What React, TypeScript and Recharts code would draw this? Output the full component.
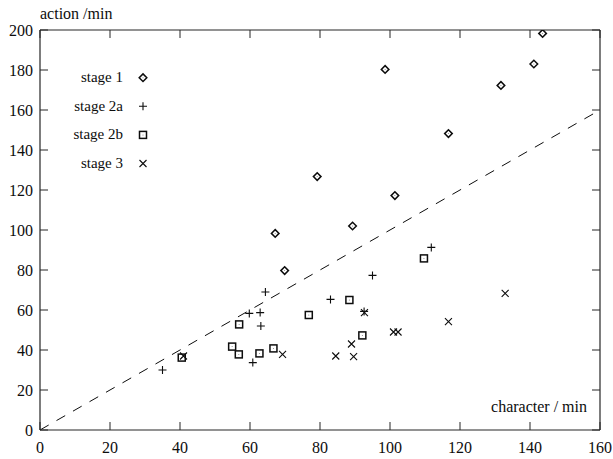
import React from 'react';
import { ScatterChart, Scatter, XAxis, YAxis, ReferenceLine, Customized } from 'recharts';

const stage1 = [
  { x: 67.2, y: 98.3 }, { x: 69.9, y: 79.7 }, { x: 79.2, y: 126.7 }, { x: 89.3, y: 102 },
  { x: 98.6, y: 180.3 }, { x: 101.4, y: 117.2 }, { x: 116.7, y: 148.2 }, { x: 131.7, y: 172.3 },
  { x: 141.1, y: 183 }, { x: 143.6, y: 198.3 },
];
const stage2a = [
  { x: 35, y: 30 }, { x: 59.8, y: 58.3 }, { x: 60.8, y: 33.7 }, { x: 62.9, y: 58.7 },
  { x: 63.1, y: 52 }, { x: 64.4, y: 69 }, { x: 83, y: 65.3 }, { x: 92.6, y: 59.3 },
  { x: 95, y: 77.3 }, { x: 111.8, y: 91.3 },
];
const stage2b = [
  { x: 40.5, y: 36.2 }, { x: 54.9, y: 41.7 }, { x: 56.8, y: 37.8 }, { x: 56.9, y: 52.8 },
  { x: 62.7, y: 38.3 }, { x: 66.7, y: 40.8 }, { x: 76.8, y: 57.5 }, { x: 88.4, y: 65 },
  { x: 92.1, y: 47.3 }, { x: 109.7, y: 85.8 },
];
const stage3 = [
  { x: 41, y: 37 }, { x: 69.3, y: 37.8 }, { x: 84.5, y: 37 }, { x: 89, y: 43 },
  { x: 89.6, y: 36.7 }, { x: 92.7, y: 58.7 }, { x: 101, y: 49 }, { x: 102.3, y: 49 },
  { x: 116.7, y: 54.2 }, { x: 132.9, y: 68.3 },
];
const diagonal = [{ x: 0, y: 0 }, { x: 160, y: 160 }];

const xTicks = [0, 20, 40, 60, 80, 100, 120, 140, 160];
const yTicks = [0, 20, 40, 60, 80, 100, 120, 140, 160, 180, 200];
const legendLabels = ['stage 1', 'stage 2a', 'stage 2b', 'stage 3'];
const xTitle = 'character / min';
const yTitle = 'action /min';

const FONT = '"Liberation Serif", "Times New Roman", serif';
const TICK_LEN = 8;
const INK = '#0d0d0d';
const FRAME = '#262626';

const Diamond = ({ cx, cy }: any) => (
  <g>
    <path d={`M${cx},${cy - 3.8}L${cx + 3.8},${cy}L${cx},${cy + 3.8}L${cx - 3.8},${cy}Z`} fill="none" stroke={INK} strokeWidth={1.5} />
    <circle cx={cx} cy={cy} r={0.5} fill="#777777" />
  </g>
);
const Plus = ({ cx, cy }: any) => (
  <path d={`M${cx - 4},${cy}H${cx + 4}M${cx},${cy - 4}V${cy + 4}`} stroke={INK} strokeWidth={1.1} fill="none" />
);
const Square = ({ cx, cy }: any) => (
  <g>
    <rect x={cx - 3.5} y={cy - 3.5} width={7} height={7} fill="none" stroke={INK} strokeWidth={1.5} />
    <circle cx={cx} cy={cy} r={0.5} fill="#777777" />
  </g>
);
const Cross = ({ cx, cy }: any) => (
  <path d={`M${cx - 3.5},${cy - 3.5}L${cx + 3.5},${cy + 3.5}M${cx - 3.5},${cy + 3.5}L${cx + 3.5},${cy - 3.5}`} stroke={INK} strokeWidth={1.1} fill="none" />
);

const markers = [Diamond, Plus, Square, Cross];

function renderBottomTick(props: any) {
  const { x, y, payload } = props;
  return (
    <g key={`b${payload.value}`}>
      <line x1={x} y1={y} x2={x} y2={y - TICK_LEN} stroke={FRAME} strokeWidth={1} />
      <text x={x} y={y + 22.5} textAnchor="middle" fontFamily={FONT} fontSize={16} fill={INK}>{payload.value}</text>
    </g>
  );
}
function renderLeftTick(props: any) {
  const { x, y, payload } = props;
  return (
    <g key={`l${payload.value}`}>
      <line x1={x} y1={y} x2={x + TICK_LEN} y2={y} stroke={FRAME} strokeWidth={1} />
      <text x={x - 7} y={y + 5.5} textAnchor="end" fontFamily={FONT} fontSize={16} fill={INK}>{payload.value}</text>
    </g>
  );
}
function renderTopTick(props: any) {
  const { x, y, payload } = props;
  return <line key={`t${payload.value}`} x1={x} y1={y} x2={x} y2={y + TICK_LEN} stroke={FRAME} strokeWidth={1} />;
}
function renderRightTick(props: any) {
  const { x, y, payload } = props;
  return <line key={`r${payload.value}`} x1={x} y1={y} x2={x - TICK_LEN} y2={y} stroke={FRAME} strokeWidth={1} />;
}

const Decorations = () => (
  <g>
    <text x={40} y={19} fontFamily={FONT} fontSize={16} fill={INK}>{yTitle}</text>
    <text x={587} y={412} fontFamily={FONT} fontSize={16} fill={INK} textAnchor="end">{xTitle}</text>
    {legendLabels.map((label, i) => {
      const my = 77.7 + i * 28.6;
      const M = markers[i];
      return (
        <g key={label}>
          <text x={123} y={my + 4.5} fontFamily={FONT} fontSize={15} fill={INK} textAnchor="end">{label}</text>
          <M cx={143} cy={my} />
        </g>
      );
    })}
  </g>
);

export default function App() {
  return (
    <div style={{ position: 'absolute', left: 0, top: 0, background: '#ffffff' }}>
      <ScatterChart width={613} height={459} margin={{ top: 29, right: 12, bottom: 0, left: 0 }}>
        <XAxis xAxisId="bottom" orientation="bottom" type="number" dataKey="x" domain={[0, 160]} ticks={xTicks} interval={0}
          tickSize={0} tickMargin={0} height={29} tick={renderBottomTick} tickLine={false}
          axisLine={{ stroke: FRAME, strokeWidth: 1.2 }} allowDataOverflow />
        <XAxis xAxisId="top" orientation="top" type="number" dataKey="x" domain={[0, 160]} ticks={xTicks}
          interval={0} tickSize={0} tickMargin={0} height={1} tick={renderTopTick} tickLine={false}
          axisLine={{ stroke: FRAME, strokeWidth: 1.2 }} allowDataOverflow />
        <YAxis yAxisId="left" orientation="left" type="number" dataKey="y" domain={[0, 200]} ticks={yTicks} interval={0}
          tickSize={0} tickMargin={0} width={40} tick={renderLeftTick} tickLine={false}
          axisLine={{ stroke: FRAME, strokeWidth: 1.2 }} allowDataOverflow />
        <YAxis yAxisId="right" orientation="right" type="number" dataKey="y" domain={[0, 200]} ticks={yTicks}
          interval={0} tickSize={0} tickMargin={0} width={1} tick={renderRightTick} tickLine={false}
          axisLine={{ stroke: FRAME, strokeWidth: 1.2 }} allowDataOverflow />
        <ReferenceLine xAxisId="bottom" yAxisId="left" segment={diagonal} stroke={INK} strokeWidth={1} strokeDasharray="10 9" />
        <Scatter xAxisId="bottom" yAxisId="left" data={stage1} shape={(p: any) => <Diamond cx={p.cx} cy={p.cy} />} isAnimationActive={false} />
        <Scatter xAxisId="bottom" yAxisId="left" data={stage2a} shape={(p: any) => <Plus cx={p.cx} cy={p.cy} />} isAnimationActive={false} />
        <Scatter xAxisId="top" yAxisId="right" data={stage2b} shape={(p: any) => <Square cx={p.cx} cy={p.cy} />} isAnimationActive={false} />
        <Scatter xAxisId="top" yAxisId="right" data={stage3} shape={(p: any) => <Cross cx={p.cx} cy={p.cy} />} isAnimationActive={false} />
        <Customized component={Decorations} />
      </ScatterChart>
    </div>
  );
}
